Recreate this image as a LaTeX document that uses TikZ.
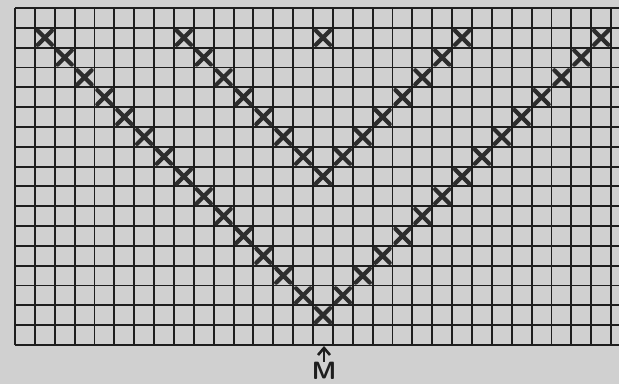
\documentclass[tikz,border=0pt]{standalone}
\usetikzlibrary{shapes.misc,arrows.meta}
\definecolor{paper}{RGB}{208,208,208}
\definecolor{ink}{RGB}{30,30,30}
\definecolor{markink}{RGB}{45,45,45}
\begin{document}
\begin{tikzpicture}[x=0.5pt,y=-0.5pt,
  gridline/.style={ink,line width=0.95pt},
  xmark/.style={cross out,draw=markink,line width=2.1pt,line cap=round,minimum size=5pt,inner sep=0pt},
  lbl/.style={font=\sffamily\fontsize{12.5}{12.5}\selectfont,text=ink,inner sep=0pt},
  pointer/.style={ink,line width=1.3pt,-{Straight Barb[length=3.5pt,width=6pt]}}]
\fill[paper] (0,0) rectangle (619,384);
\useasboundingbox (0,0) rectangle (619,384);
\begin{scope}
  \clip (0,0) rectangle (619,384);
  \foreach \i in {0,...,30} \draw[gridline] ({15+19.87*\i},8) -- ({15+19.87*\i},345);
  \foreach \j in {0,...,17} \draw[gridline] (15,{8+19.82*\j}) -- (619,{8+19.82*\j});
\end{scope}
% first diagonal
\foreach \k in {1,...,15}
  \node[xmark] (a\k) at ({15+19.87*(\k+0.5)},{8+19.82*(\k+0.5)}) {};
% second V
\foreach \k in {0,...,7}
  \node[xmark] (b\k) at ({15+19.87*(8+\k+0.5)},{8+19.82*(1+\k+0.5)}) {};
\foreach \k in {1,...,7}
  \node[xmark] (c\k) at ({15+19.87*(15+\k+0.5)},{8+19.82*(8-\k+0.5)}) {};
% single mark
\node[xmark] (s) at ({15+19.87*15.5},{8+19.82*1.5}) {};
% rising diagonal
\foreach \k in {1,...,14}
  \node[xmark] (d\k) at ({15+19.87*(15+\k+0.5)},{8+19.82*(15-\k+0.5)}) {};
% M label and arrow
\coordinate (tip) at (324,346);
\node[lbl] (M) at (324,371) {\bfseries M};
\draw[pointer] (M.north) -- (tip);
\end{tikzpicture}
\end{document}
